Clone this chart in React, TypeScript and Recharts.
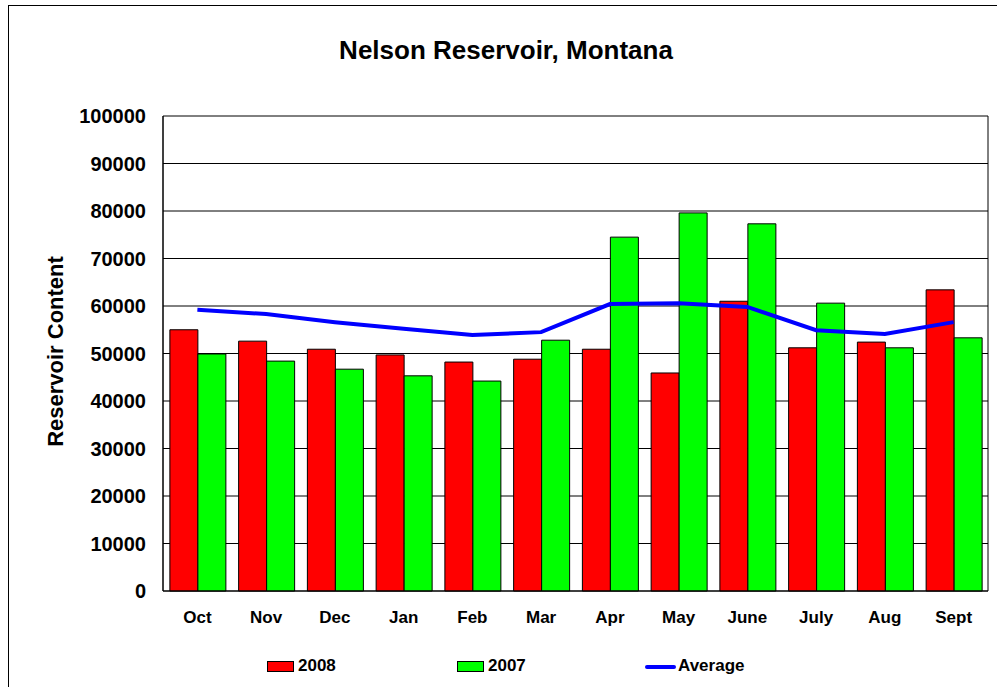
import React from "react";
import {
  ComposedChart,
  Bar,
  Line,
  XAxis,
  YAxis,
  CartesianGrid,
  Legend,
} from "recharts";

const months = ["Oct", "Nov", "Dec", "Jan", "Feb", "Mar", "Apr", "May", "June", "July", "Aug", "Sept"];
const values2008 = [55000, 52600, 50900, 49700, 48200, 48800, 50900, 45900, 61000, 51200, 52400, 63400];
const values2007 = [49900, 48400, 46700, 45300, 44200, 52800, 74500, 79600, 77300, 60600, 51200, 53300];
const averageValues = [59200, 58300, 56600, 55200, 53900, 54500, 60400, 60600, 59800, 54900, 54100, 56600];
const yTicks = [0, 10000, 20000, 30000, 40000, 50000, 60000, 70000, 80000, 90000, 100000];

const data = months.map((m, i) => ({
  month: m,
  y2008: values2008[i],
  y2007: values2007[i],
  avg: averageValues[i],
}));

const FONT = "Arial, 'Liberation Sans', Helvetica, sans-serif";
const NARROW = "'Liberation Sans Narrow', 'Arial Narrow', Arial, 'Liberation Sans', sans-serif";

const LegendContent = () => (
  <div style={{ position: "relative", width: 997, height: 24, fontFamily: NARROW, fontWeight: "bold", fontSize: 17 }}>
    <div style={{ position: "absolute", left: 267, top: 7, width: 27, height: 11, background: "#FF0000", border: "1px solid #000", boxSizing: "border-box" }} />
    <div style={{ position: "absolute", left: 298, top: 3, lineHeight: "18px" }}>2008</div>
    <div style={{ position: "absolute", left: 457, top: 7, width: 27, height: 11, background: "#00FF00", border: "1px solid #000", boxSizing: "border-box" }} />
    <div style={{ position: "absolute", left: 488, top: 3, lineHeight: "18px" }}>2007</div>
    <div style={{ position: "absolute", left: 645, top: 11, width: 31, height: 4, background: "#0000FF", borderRadius: 2 }} />
    <div style={{ position: "absolute", left: 678, top: 3, lineHeight: "18px" }}>Average</div>
  </div>
);

export default function App() {
  return (
    <div style={{ position: "absolute", left: 0, top: 0, width: 997, height: 687, background: "#fff", overflow: "hidden" }}>
      <div style={{ position: "absolute", left: 8, top: 5, width: 1100, height: 800, border: "1px solid #000", boxSizing: "border-box" }} />
      <div
        style={{
          position: "absolute",
          left: 0,
          width: 1012,
          top: 34,
          textAlign: "center",
          fontFamily: FONT,
          fontWeight: "bold",
          fontSize: 26,
          lineHeight: "32px",
        }}
      >
        Nelson Reservoir, Montana
      </div>
      <div style={{ position: "absolute", left: 0, top: 0 }}>
        <ComposedChart
          width={997}
          height={687}
          data={data}
          margin={{ top: 116, right: 9, bottom: 66, left: 0 }}
          barCategoryGap="10%"
          barGap={0}
        >
          <CartesianGrid
            stroke="#000"
            strokeWidth={1}
            verticalCoordinatesGenerator={({ offset }: any) => [offset.left, offset.left + offset.width]}
          />
          <XAxis
            dataKey="month"
            height={30}
            tickLine={false}
            tickSize={0}
            tickMargin={20}
            axisLine={{ stroke: "#000", strokeWidth: 1 }}
            tick={{ fill: "#000", fontFamily: FONT, fontWeight: "bold", fontSize: 17 }}
            interval={0}
          />
          <YAxis
            width={163}
            domain={[0, 100000]}
            ticks={yTicks}
            interval={0}
            tickLine={false}
            tickSize={0}
            tickMargin={17}
            axisLine={{ stroke: "#000", strokeWidth: 1 }}
            tick={{ fill: "#000", fontFamily: FONT, fontWeight: "bold", fontSize: 20 }}
            label={{
              value: "Reservoir Content",
              angle: -90,
              position: "insideLeft",
              offset: 0,
              dx: 55,
              dy: -2,
              style: { fill: "#000", fontFamily: FONT, fontWeight: "bold", fontSize: 22, textAnchor: "middle" },
            }}
          />
          <Legend
            layout="horizontal"
            verticalAlign="middle"
            align="center"
            wrapperStyle={{ position: "absolute", top: 654, left: 0, width: 997, height: 24 }}
            content={<LegendContent />}
          />
          <Bar dataKey="y2008" name="2008" fill="#FF0000" stroke="#000" strokeWidth={1} isAnimationActive={false} />
          <Bar dataKey="y2007" name="2007" fill="#00FF00" stroke="#000" strokeWidth={1} isAnimationActive={false} />
          <Line
            dataKey="avg"
            name="Average"
            type="linear"
            stroke="#0000FF"
            strokeWidth={4}
            dot={false}
            activeDot={false}
            isAnimationActive={false}
          />
        </ComposedChart>
      </div>
    </div>
  );
}
